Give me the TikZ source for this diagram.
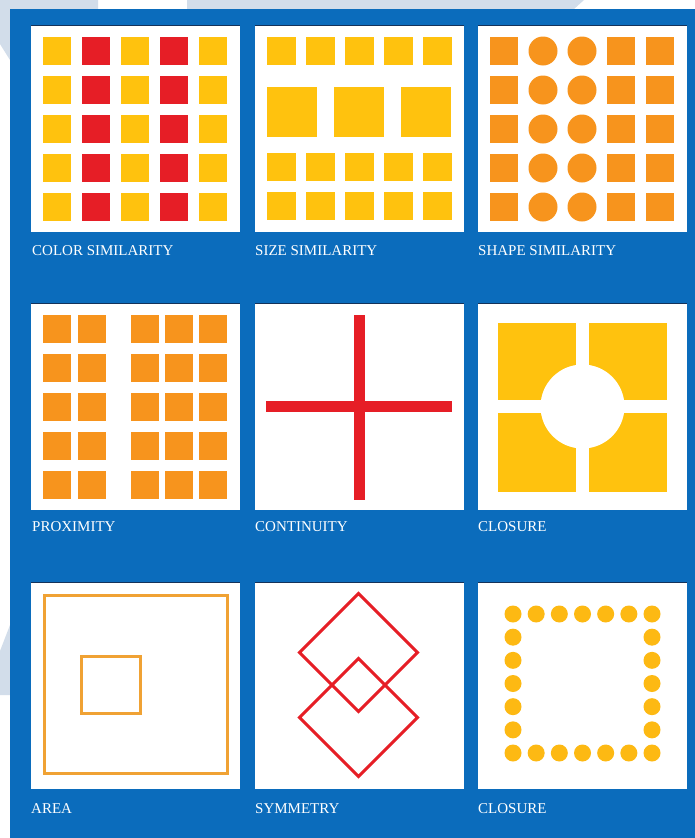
\documentclass[tikz,border=0pt]{standalone}
\usepackage{fontspec}
\setmainfont{Liberation Serif}
\definecolor{bgblue}{RGB}{11,108,188}
\definecolor{pale}{RGB}{210,221,234}
\definecolor{amber}{RGB}{255,194,14}
\definecolor{redsq}{RGB}{230,30,38}
\definecolor{orangesq}{RGB}{247,148,29}
\definecolor{areaor}{RGB}{240,162,52}
\definecolor{dotc}{RGB}{253,185,19}
\definecolor{edgec}{RGB}{20,50,90}
\begin{document}
\begin{tikzpicture}[x=1pt,y=-1pt,
  panel/.style={fill=white},
  paneltop/.style={draw=edgec,line width=1pt},
  lbl/.style={anchor=base west,inner sep=0pt,text=white,font=\fontsize{15}{15}\selectfont},
  outl/.style={line width=3pt,line join=miter}]
\useasboundingbox (0,0) rectangle (695,838);
% background
\fill[white] (0,0) rectangle (695,838);
\fill[pale] (0,0) -- (98,0) -- (98,9) -- (10,9) -- (10,60) -- (0,44) -- cycle;
\fill[pale] (187,0) -- (584,0) -- (574,9) -- (187,9) -- cycle;
\fill[pale] (0,651) -- (10,625) -- (10,695) -- (0,695) -- cycle;
\fill[bgblue] (10,9) rectangle (695,838);
% panels
\foreach \px in {31,255,478} {
  \foreach \py in {25,303,582} {
    \fill[panel] (\px,\py) rectangle ++(209,207);
    \draw[paneltop] (\px,\py) -- ++(209,0);
  }
}
% panel 1: colour similarity
\foreach \i in {0,2,4} \foreach \j in {0,...,4}
  \fill[amber] (43+39*\i,37+39*\j) rectangle ++(28,28);
\foreach \i in {1,3} \foreach \j in {0,...,4}
  \fill[redsq] (43+39*\i,37+39*\j) rectangle ++(28,28);
% panel 2: size similarity
\foreach \i in {0,...,4} \foreach \y in {37,153,192}
  \fill[amber] (267+39*\i,\y) rectangle ++(29,28);
\foreach \x in {267,334,401}
  \fill[amber] (\x,87) rectangle ++(50,50);
% panel 3: shape similarity
\foreach \x in {490,607,646} \foreach \j in {0,...,4}
  \fill[orangesq] (\x,37+39*\j) rectangle ++(28,28);
\foreach \x in {543,582} \foreach \j in {0,...,4}
  \fill[orangesq] (\x,51+39*\j) circle (14.5);
% panel 4: proximity
\foreach \x in {43,78,131,165,199} \foreach \j in {0,...,4}
  \fill[orangesq] (\x,315+39*\j) rectangle ++(28,28);
% panel 5: continuity
\fill[redsq] (354,315) rectangle (365,500);
\fill[redsq] (266,401) rectangle (452,412);
% panel 6: closure
\fill[amber] (498,323) rectangle (576,400);
\fill[amber] (589,323) rectangle (667,400);
\fill[amber] (498,413) rectangle (576,492);
\fill[amber] (589,413) rectangle (667,492);
\fill[white] (582.5,406.5) circle (42);
% panel 7: area
\draw[areaor,line width=3.3pt] (44.7,595.7) rectangle (227.3,773.3);
\draw[areaor,line width=3.3pt] (81.5,656.5) rectangle (140.5,713.5);
% panel 8: symmetry
\draw[redsq,outl] (358.5,593.5) -- (417.5,652.5) -- (358.5,711.5) -- (299.5,652.5) -- cycle;
\draw[redsq,outl] (358.5,658.5) -- (417.5,717.5) -- (358.5,776.5) -- (299.5,717.5) -- cycle;
% panel 9: closure dots
\foreach \k in {0,...,6} {
  \fill[dotc] (513+23.17*\k,614) circle (8.5);
  \fill[dotc] (513+23.17*\k,753) circle (8.5);
}
\foreach \k in {1,...,5} {
  \fill[dotc] (513,614+23.17*\k) circle (8.5);
  \fill[dotc] (652,614+23.17*\k) circle (8.5);
}
% labels
\node[lbl] (l1) at (32,255) {COLOR SIMILARITY};
\node[lbl] (l2) at (255,255) {SIZE SIMILARITY};
\node[lbl] (l3) at (478,255) {SHAPE SIMILARITY};
\node[lbl] (l4) at (32,531) {PROXIMITY};
\node[lbl] (l5) at (255,531) {CONTINUITY};
\node[lbl] (l6) at (478,531) {CLOSURE};
\node[lbl] (l7) at (31,813) {AREA};
\node[lbl] (l8) at (255,813) {SYMMETRY};
\node[lbl] (l9) at (478,813) {CLOSURE};
\end{tikzpicture}
\end{document}
